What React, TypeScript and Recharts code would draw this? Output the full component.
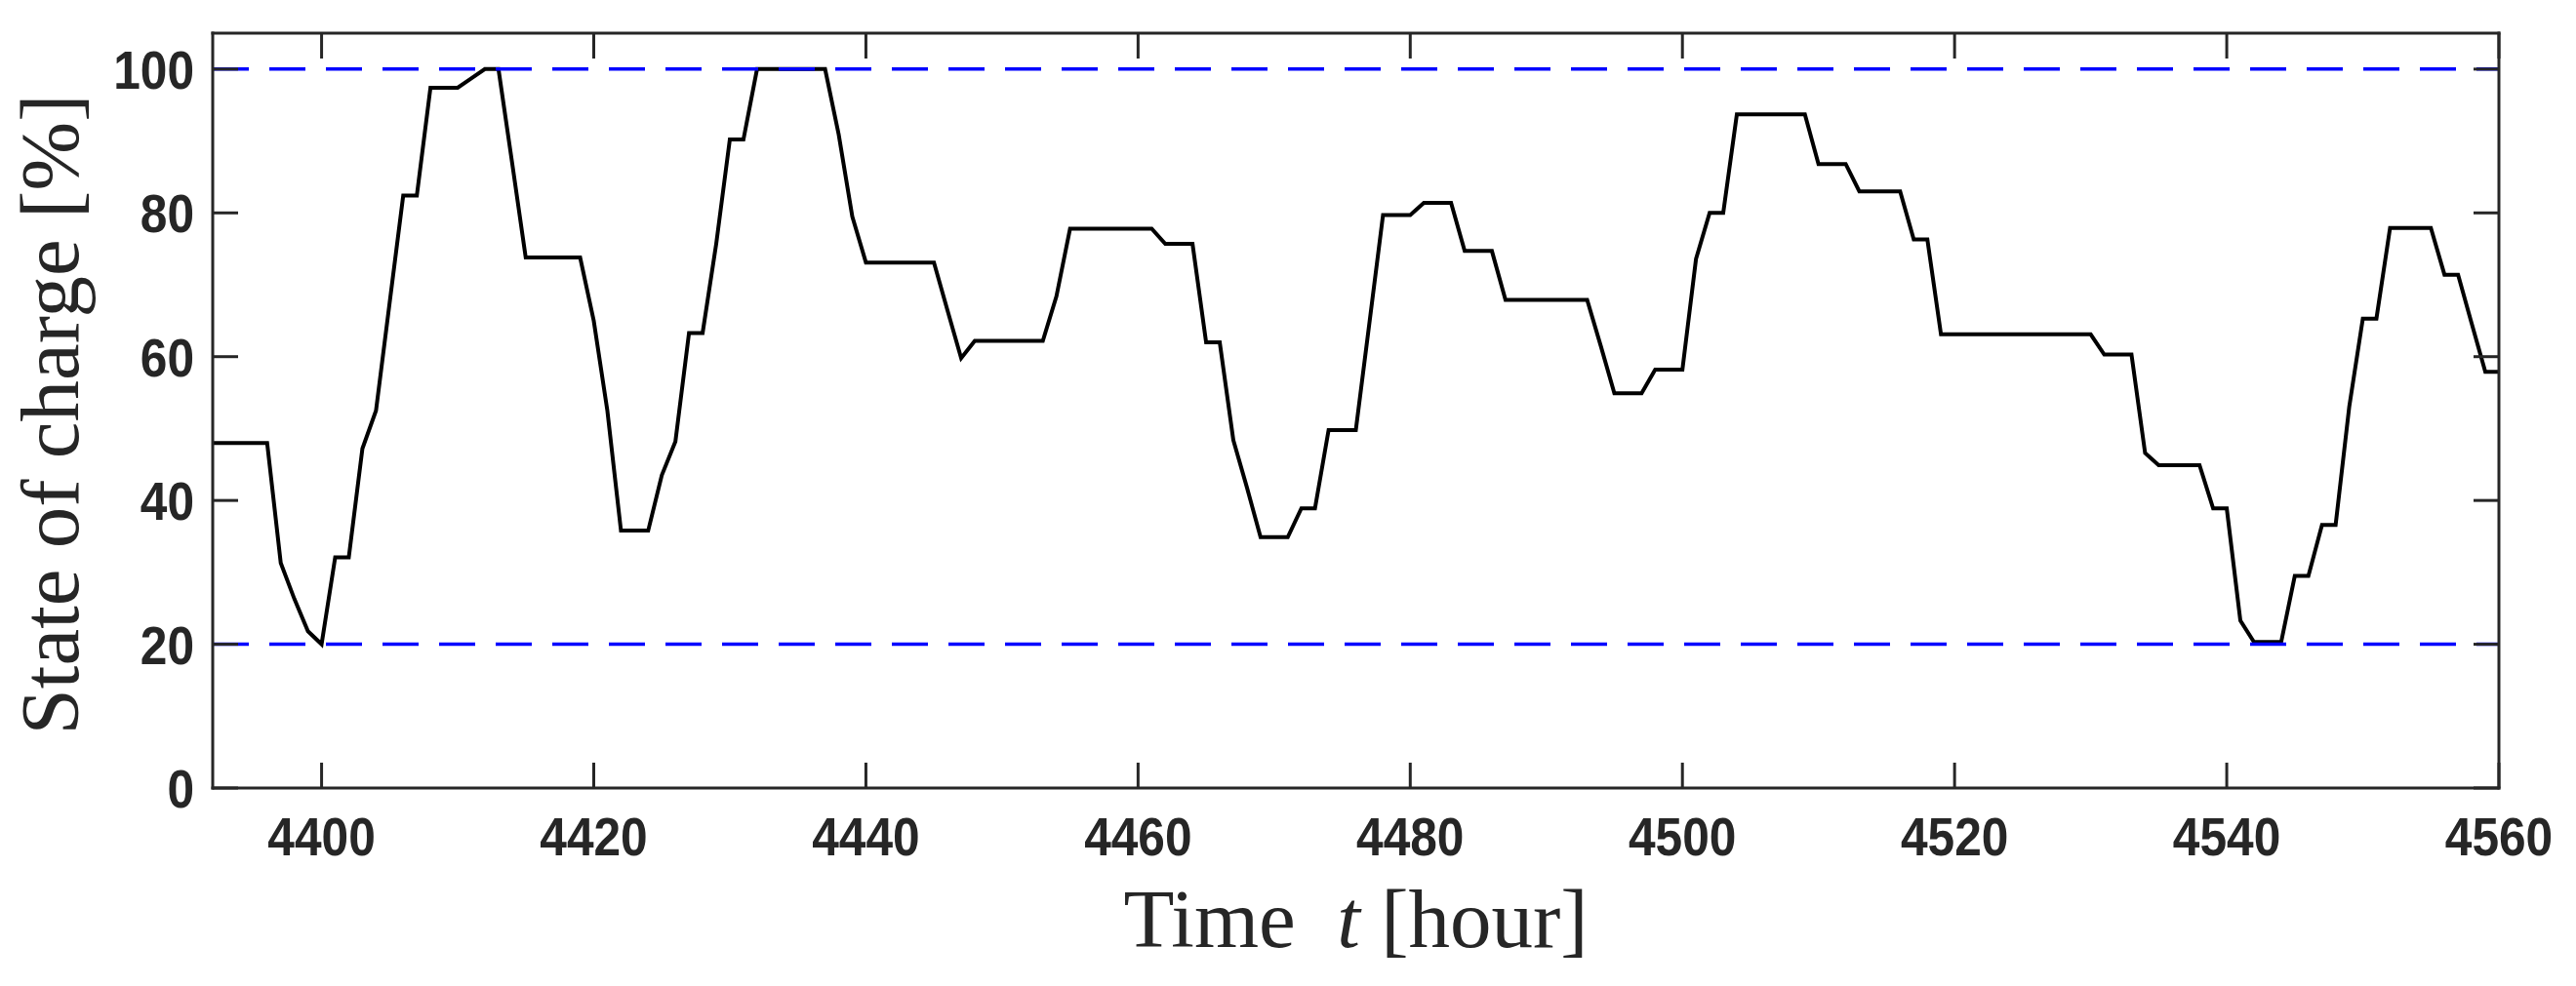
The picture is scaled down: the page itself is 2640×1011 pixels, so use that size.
import React from 'react';
import { LineChart, Line, XAxis, YAxis, ReferenceLine } from 'recharts';

const hours = [
  4392, 4396, 4397, 4398, 4399, 4400, 4401, 4402, 4403, 4404, 4405, 4406, 4407, 4408, 4410, 4411, 4412, 4413,
  4414, 4415, 4419, 4420, 4421, 4422, 4424, 4425, 4426, 4427, 4428, 4429, 4430, 4431, 4432, 4437, 4438, 4439,
  4440, 4445, 4446, 4447, 4448, 4453, 4454, 4455, 4461, 4462, 4464, 4465, 4466, 4467, 4468, 4469, 4471, 4472,
  4473, 4474, 4476, 4477, 4478, 4480, 4481, 4483, 4484, 4486, 4487, 4493, 4494, 4495, 4497, 4498, 4500, 4501,
  4502, 4503, 4504, 4509, 4510, 4512, 4513, 4516, 4517, 4518, 4519, 4530, 4531, 4533, 4534, 4535, 4538, 4539,
  4540, 4541, 4542, 4544, 4545, 4546, 4547, 4548, 4549, 4550, 4551, 4552, 4555, 4556, 4557, 4558, 4559, 4560,
];

const socValues = [
  48.0, 48.0, 31.3, 26.3, 21.8, 20.0, 32.1, 32.1, 47.2, 52.5, 67.5, 82.4, 82.4, 97.4, 97.4, 98.7, 100, 100,
  87.0, 73.8, 73.8, 65.0, 52.5, 35.8, 35.8, 43.5, 48.2, 63.3, 63.3, 75.7, 90.2, 90.2, 100, 100, 90.9, 79.5,
  73.1, 73.1, 66.4, 59.8, 62.2, 62.2, 68.4, 77.8, 77.8, 75.7, 75.7, 62.0, 62.0, 48.4, 41.8, 34.9, 34.9, 38.9,
  38.9, 49.8, 49.8, 64.7, 79.7, 79.7, 81.4, 81.4, 74.7, 74.7, 67.9, 67.9, 61.5, 54.9, 54.9, 58.2, 58.2, 73.6,
  80.0, 80.0, 93.7, 93.7, 86.8, 86.8, 83.0, 83.0, 76.3, 76.3, 63.1, 63.1, 60.3, 60.3, 46.6, 44.9, 44.9, 38.9,
  38.9, 23.3, 20.3, 20.3, 29.5, 29.5, 36.6, 36.6, 53.0, 65.3, 65.3, 77.9, 77.9, 71.4, 71.4, 64.6, 57.9, 57.9,
];

const xTicks = [4400, 4420, 4440, 4460, 4480, 4500, 4520, 4540, 4560];
const yTicks = [0, 20, 40, 60, 80, 100];
const xDomain = [4392, 4560];
const yDomain = [0, 105];
const socLimits = [20, 100];

const data = hours.map((h, i) => ({ hour: h, soc: socValues[i] }));

const AX = '#262626';
const TICK_LEN = 26;
const TICK_FONT = 55;
const DIGIT_W = 27.6;
const tickFont = "'Liberation Sans', Arial, sans-serif";
const serif = "'Liberation Serif', 'Times New Roman', serif";

const BottomTick = (props: any) => {
  const { x, y, payload } = props;
  const label = String(payload.value);
  return (
    <g>
      <line x1={x} y1={y} x2={x} y2={y - TICK_LEN} stroke={AX} strokeWidth={3} />
      <text
        x={x}
        y={y + 69}
        textAnchor="middle"
        fontFamily={tickFont}
        fontWeight="bold"
        fontSize={TICK_FONT}
        fill={AX}
        textLength={label.length * DIGIT_W}
        lengthAdjust="spacingAndGlyphs"
      >
        {label}
      </text>
    </g>
  );
};

const TopTick = (props: any) => {
  const { x, y } = props;
  return <line x1={x} y1={y} x2={x} y2={y + TICK_LEN} stroke={AX} strokeWidth={3} />;
};

const LeftTick = (props: any) => {
  const { x, y, payload } = props;
  const label = String(payload.value);
  return (
    <g>
      <line x1={x} y1={y} x2={x + TICK_LEN} y2={y} stroke={AX} strokeWidth={3} />
      <text
        x={x - 19}
        y={y + 20}
        textAnchor="end"
        fontFamily={tickFont}
        fontWeight="bold"
        fontSize={TICK_FONT}
        fill={AX}
        textLength={label.length * DIGIT_W}
        lengthAdjust="spacingAndGlyphs"
      >
        {label}
      </text>
    </g>
  );
};

const RightTick = (props: any) => {
  const { x, y } = props;
  return <line x1={x} y1={y} x2={x - TICK_LEN} y2={y} stroke={AX} strokeWidth={3} />;
};

const XLabel = (props: any) => {
  const vb = props.viewBox || {};
  const cx = vb.x + vb.width / 2;
  const by = vb.y + 163;
  return (
    <text x={cx} y={by} textAnchor="middle" fontFamily={serif} fontSize={85} fill={AX}>
      <tspan>{'Time\u00a0\u00a0'}</tspan>
      <tspan fontStyle="italic">t</tspan>
      <tspan>{'\u00a0[hour]'}</tspan>
    </text>
  );
};

const YLabel = (props: any) => {
  const vb = props.viewBox || {};
  const cx = 80;
  const cy = vb.y + vb.height / 2 + 4;
  return (
    <text
      x={cx}
      y={cy}
      textAnchor="middle"
      fontFamily={serif}
      fontSize={85}
      fill={AX}
      transform={`rotate(-90, ${cx}, ${cy})`}
    >
      State of charge [%]
    </text>
  );
};

const axisLine = { stroke: AX, strokeWidth: 3, strokeLinecap: 'square' as const };

export default function App() {
  return (
    <div style={{ position: 'absolute', left: 0, top: 0, width: 2640, height: 1011, background: '#fff' }}>
      <LineChart width={2640} height={1011} data={data} margin={{ top: 33, right: 78, bottom: 0, left: 0 }}>
        <XAxis
          xAxisId="b"
          dataKey="hour"
          type="number"
          domain={xDomain}
          allowDataOverflow
          ticks={xTicks}
          interval={0}
          height={203}
          tickSize={0}
          tickMargin={0}
          tickLine={false}
          axisLine={axisLine}
          tick={<BottomTick />}
          label={{ content: <XLabel /> }}
        />
        <XAxis
          xAxisId="t"
          orientation="top"
          dataKey="hour"
          type="number"
          domain={xDomain}
          allowDataOverflow
          ticks={xTicks}
          interval={0}
          height={1}
          tickSize={0}
          tickMargin={0}
          tickLine={false}
          axisLine={axisLine}
          tick={<TopTick />}
        />
        <YAxis
          yAxisId="l"
          dataKey="soc"
          type="number"
          domain={yDomain}
          allowDataOverflow
          ticks={yTicks}
          interval={0}
          width={218}
          tickSize={0}
          tickMargin={0}
          tickLine={false}
          axisLine={axisLine}
          tick={<LeftTick />}
          label={{ content: <YLabel /> }}
        />
        <YAxis
          yAxisId="r"
          orientation="right"
          dataKey="soc"
          type="number"
          domain={yDomain}
          allowDataOverflow
          ticks={yTicks}
          interval={0}
          width={1}
          tickSize={0}
          tickMargin={0}
          tickLine={false}
          axisLine={axisLine}
          tick={<RightTick />}
        />
        <Line
          xAxisId="b"
          yAxisId="l"
          type="linear"
          dataKey="soc"
          stroke="#000000"
          strokeWidth={4}
          dot={false}
          activeDot={false}
          isAnimationActive={false}
        />
        {socLimits.map((v) => (
          <ReferenceLine
            key={v}
            xAxisId="b"
            yAxisId="l"
            y={v}
            stroke="#0000FF"
            strokeWidth={3.5}
            strokeDasharray="37 21"
          />
        ))}
      </LineChart>
    </div>
  );
}
